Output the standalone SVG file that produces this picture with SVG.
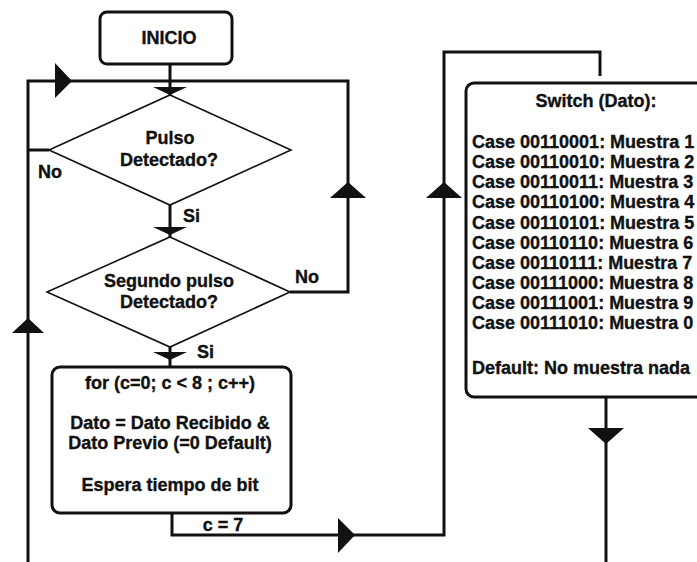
<svg xmlns="http://www.w3.org/2000/svg" width="697" height="562" viewBox="0 0 697 562">
<style>
  text { font-family: "Liberation Sans", Arial, Helvetica, sans-serif; font-weight: bold; font-size: 18px; fill: #111; stroke: #111; stroke-width: 0.35; }
  .c { text-anchor: middle; }
  .box { fill: #fff; stroke: #111; stroke-width: 3; }
  .dia { fill: #fff; stroke: #111; stroke-width: 1.6; }
  .ln { fill: none; stroke: #111; stroke-width: 3; stroke-linejoin: miter; }
  .ah { fill: #111; stroke: none; }
</style>
<rect width="697" height="562" fill="#fff"/>
<g id="connectors">
  <path class="ln" d="M170 64 V95"/>
  <path class="ln" d="M28 562 V81 H348 V292 H290"/>
  <path class="ln" d="M49 150 H28"/>
  <path class="ln" d="M170 205 V237"/>
  <path class="ln" d="M170 347 V367"/>
  <path class="ln" d="M172 513 V535 H444 V52 H600 V76"/>
  <path class="ln" d="M606 397 V562"/>
  <polygon class="ah" points="55,63 55,98 72,81"/>
  <polygon class="ah" points="153,87 187,87 170,95"/>
  <polygon class="ah" points="153,227 187,227 170,235"/>
  <polygon class="ah" points="153,352 187,352 170,360"/>
  <polygon class="ah" points="12,333 44,333 28,318"/>
  <polygon class="ah" points="330,198 366,198 348,182"/>
  <polygon class="ah" points="426,198 462,198 444,182"/>
  <polygon class="ah" points="338,518 338,553 355,535"/>
  <polygon class="ah" points="588,428 624,428 606,444"/>
  <text x="38" y="178">No</text>
  <text x="183" y="222">Si</text>
  <text x="295" y="283">No</text>
  <text x="197" y="358">Si</text>
  <text class="c" x="223" y="531">c = 7</text>
</g>
<g id="inicio">
  <rect class="box" x="100" y="12" width="132" height="52" rx="7"/>
  <text class="c" x="169" y="44">INICIO</text>
</g>
<g id="pulso">
  <polygon class="dia" points="170,95 291,150 170,205 49,150"/>
  <text class="c" x="170" y="144">Pulso</text>
  <text class="c" x="169" y="166">Detectado?</text>
</g>
<g id="segundo">
  <polygon class="dia" points="170,237 290,292 170,347 47,292"/>
  <text class="c" x="169" y="287">Segundo pulso</text>
  <text class="c" x="169" y="308">Detectado?</text>
</g>
<g id="loop">
  <rect class="box" x="52" y="367" width="239" height="146" rx="8"/>
  <text class="c" x="170" y="389">for (c=0; c &lt; 8 ; c++)</text>
  <text class="c" x="170" y="429">Dato = Dato Recibido &amp;</text>
  <text class="c" x="170" y="449">Dato Previo (=0 Default)</text>
  <text class="c" x="170" y="491">Espera tiempo de bit</text>
</g>
<g id="switch">
  <rect class="box" x="466" y="83" width="260" height="314" rx="8"/>
  <text class="c" x="596" y="107">Switch (Dato):</text>
  <text x="472" y="148">Case 00110001: Muestra 1</text>
  <text x="472" y="168">Case 00110010: Muestra 2</text>
  <text x="472" y="188">Case 00110011: Muestra 3</text>
  <text x="472" y="208">Case 00110100: Muestra 4</text>
  <text x="472" y="229">Case 00110101: Muestra 5</text>
  <text x="472" y="249">Case 00110110: Muestra 6</text>
  <text x="472" y="269">Case 00110111: Muestra 7</text>
  <text x="472" y="289">Case 00111000: Muestra 8</text>
  <text x="472" y="309">Case 00111001: Muestra 9</text>
  <text x="472" y="329">Case 00111010: Muestra 0</text>
  <text x="472" y="374">Default: No muestra nada</text>
</g>
</svg>
